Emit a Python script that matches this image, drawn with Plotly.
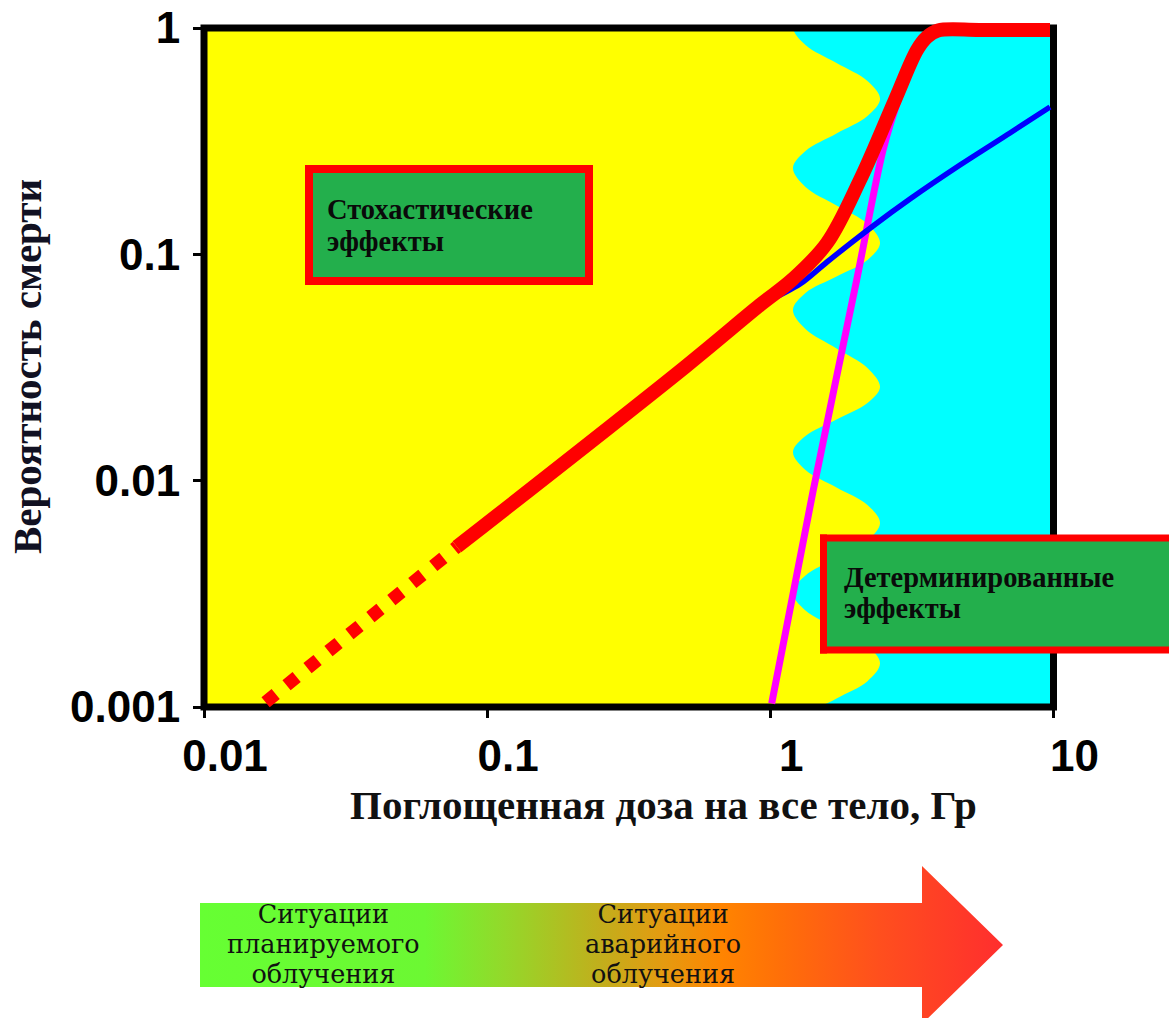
import base64
import plotly.graph_objects as go

# ---------------- data ----------------
dose_ticks = [0.01, 0.1, 1, 10]
dose_tick_text = ["0.01", "0.1", "1", "10"]
prob_ticks = [0.001, 0.01, 0.1, 1]
prob_tick_text = ["0.001", "0.01", "0.1", "1"]

# extrapolated linear part of the risk curve (dotted)
lnt_dose = [0.0165, 0.0782]
lnt_prob = [0.00105, 0.0051]

# total risk (thick red)
total_dose = [0.0782, 0.5, 0.919, 1.202, 1.585, 2.073, 2.755, 3.296, 3.574, 3.909, 5.5, 9.72]
total_prob = [0.0051, 0.0318, 0.0597, 0.0778, 0.1122, 0.2130, 0.4808, 0.7995, 0.9126, 0.975, 0.980, 0.980]

# stochastic component (blue)
stoch_dose = [0.919, 1.273, 1.585, 2.305, 3.112, 4.675, 7.02, 9.72]
stoch_prob = [0.0597, 0.0739, 0.0925, 0.1334, 0.1755, 0.248, 0.3437, 0.4477]

# deterministic component (magenta)
det_dose = [1.011, 1.418, 2.018, 2.5, 2.871, 3.165]
det_prob = [0.001036, 0.00909, 0.0770, 0.289, 0.506, 0.679]

# wavy boundary between the yellow and cyan zones (top to bottom)
zone_dose = [1.202, 1.331, 1.713, 2.203, 2.440, 2.203, 1.713, 1.331,
             1.202, 1.331, 1.713, 2.203, 2.440, 2.203, 1.713, 1.331,
             1.202, 1.331, 1.713, 2.203, 2.440, 2.203, 1.713, 1.331,
             1.202, 1.331, 1.713, 2.203, 2.440, 2.203, 1.713, 1.331,
             1.202, 1.331, 1.713, 2.203, 2.440, 2.203, 1.713, 1.331,
             1.202, 1.331, 1.713, 2.203, 2.440, 2.203, 1.713, 1.331,
             1.202, 1.331, 1.713, 2.203, 2.440]
zone_prob = [4.33, 3.603, 3.001, 2.498, 2.080, 1.732, 1.450, 1.213,
             1.010, 0.841, 0.700, 0.583, 0.4857, 0.4086, 0.3419, 0.2861,
             0.2406, 0.1984, 0.1643, 0.1362, 0.1122, 0.0944, 0.0798, 0.0675,
             0.0568, 0.0468, 0.0384, 0.0315, 0.02593, 0.02203, 0.01863, 0.01575,
             0.01338, 0.01114, 0.00933, 0.00781, 0.00650, 0.00544, 0.00455, 0.00381,
             0.00319, 0.00267, 0.00223, 0.00187, 0.00156, 0.00130, 0.00109, 0.000912,
             0.00076, 0.000633, 0.000529, 0.000443, 0.000369]

x_title = "Поглощенная доза на все тело, Гр"
y_title = "Вероятность смерти"
box1_lines = ["Стохастические", "эффекты"]
box2_lines = ["Детерминированные", "эффекты"]
arrow1_lines = ["Ситуации", "планируемого", "облучения"]
arrow2_lines = ["Ситуации", "аварийного", "облучения"]

# ---------------- geometry ----------------
W, H = 1169, 1018
X0, X1 = 204.0, 1053.5      # pixel of 0.01 and 10
Y0, Y1 = 28.0, 707.0        # pixel of 1 and 0.001
XS = (X1 - X0) / 3.0
YS = (Y1 - Y0) / 3.0


def xdom(pl, pr):
    return [pl / W, pr / W], [-2 + (pl - X0) / XS, -2 + (pr - X0) / XS]


def ydom(pt, pb):
    return [1 - pb / H, 1 - pt / H], [-(pb - Y0) / YS, -(pt - Y0) / YS]


def px(x):
    return x / W


def py(y):
    return 1 - y / H


xa_dom, xa_rng = xdom(X0, X1)
ya_dom, ya_rng = ydom(Y0, Y1)
xb_dom, xb_rng = xdom(X0 - 20, X1 + 20)
yb_dom, yb_rng = ydom(Y0 - 20, Y1 + 20)

fig = go.Figure()

# cyan zone (deterministic region)
fig.add_trace(go.Scatter(
    x=zone_dose + [100, 100], y=zone_prob + [zone_prob[-1], zone_prob[0]],
    mode="lines", line=dict(width=0, shape="spline", smoothing=1.0),
    fill="toself", fillcolor="#00FFFF", hoverinfo="skip",
    xaxis="x", yaxis="y"))

# frame
fx = [dose_ticks[0], dose_ticks[-1], dose_ticks[-1], dose_ticks[0], dose_ticks[0], dose_ticks[-1]]
fy = [prob_ticks[0], prob_ticks[0], prob_ticks[-1], prob_ticks[-1], prob_ticks[0], prob_ticks[0]]
fig.add_trace(go.Scatter(x=fx, y=fy, mode="lines", line=dict(color="black", width=7),
                         hoverinfo="skip", xaxis="x2", yaxis="y2"))

fig.add_trace(go.Scatter(x=det_dose, y=det_prob, mode="lines",
                         line=dict(color="#FF00FF", width=7, shape="spline", smoothing=0.8),
                         hoverinfo="skip", xaxis="x2", yaxis="y2"))
fig.add_trace(go.Scatter(x=stoch_dose, y=stoch_prob, mode="lines",
                         line=dict(color="#0000FF", width=5.5, shape="spline", smoothing=0.8),
                         hoverinfo="skip", xaxis="x2", yaxis="y2"))
fig.add_trace(go.Scatter(x=lnt_dose, y=lnt_prob, mode="lines",
                         line=dict(color="#FF0000", width=13, dash="13px,14px"),
                         hoverinfo="skip", xaxis="x2", yaxis="y2"))
fig.add_trace(go.Scatter(x=total_dose, y=total_prob, mode="lines",
                         line=dict(color="#FF0000", width=14, shape="spline", smoothing=1.0),
                         hoverinfo="skip", xaxis="x2", yaxis="y2"))

tickfont = dict(family="Liberation Sans, Arial", size=44, color="black", weight="bold")

fig.update_layout(
    width=W, height=H, autosize=False,
    margin=dict(l=0, r=0, t=0, b=0, pad=0, autoexpand=False),
    paper_bgcolor="white", plot_bgcolor="rgba(0,0,0,0)", showlegend=False,
    xaxis=dict(type="log", domain=xa_dom, range=xa_rng, anchor="y", automargin=False,
               tickvals=dose_ticks, ticktext=dose_tick_text,
               ticks="outside", ticklen=10, tickwidth=3, tickcolor="black",
               showline=False, showgrid=False, zeroline=False, ticklabeloverflow="allow",
               tickfont=tickfont, ticklabelshift=21, fixedrange=True),
    yaxis=dict(type="log", domain=ya_dom, range=ya_rng, anchor="x", automargin=False,
               tickvals=prob_ticks, ticktext=prob_tick_text,
               ticks="outside", ticklen=10, tickwidth=3, tickcolor="black",
               showline=False, showgrid=False, zeroline=False, ticklabeloverflow="allow",
               tickfont=tickfont, ticklabelstandoff=4, fixedrange=True),
    xaxis2=dict(type="log", domain=xb_dom, range=xb_rng, anchor="y2", automargin=False,
                visible=False, fixedrange=True),
    yaxis2=dict(type="log", domain=yb_dom, range=yb_rng, anchor="x2", automargin=False,
                visible=False, fixedrange=True),
)

# yellow background of the plot area
fig.add_shape(type="rect", xref="x domain", yref="y domain", x0=0, x1=1, y0=0, y1=1,
              fillcolor="#FFFF00", line=dict(width=0), layer="below")

# green label boxes
green = "#23AF4C"
fig.add_shape(type="rect", xref="paper", yref="paper",
              x0=px(309), x1=px(589), y0=py(281), y1=py(169),
              fillcolor=green, line=dict(color="#FF0000", width=8), layer="above")
# second box runs off the right edge: fill plus three red sides
fig.add_shape(type="rect", xref="paper", yref="paper",
              x0=px(823.5), x1=1.0, y0=py(650), y1=py(538),
              fillcolor=green, line=dict(width=0), layer="above")
for (a, b, c, d) in [(820, 534.5, 1169, 541.5), (820, 646.5, 1169, 653.5), (820, 534.5, 827, 653.5)]:
    fig.add_shape(type="rect", xref="paper", yref="paper",
                  x0=px(a), x1=px(c), y0=py(d), y1=py(b),
                  fillcolor="#FF0000", line=dict(width=0), layer="above")

serif_b = dict(family="Liberation Serif, Times New Roman", size=28.5, color="#0a0a0a", weight="bold")
ann = []
for txt, yy in zip(box1_lines, [209, 241]):
    ann.append(dict(text=txt, x=px(325), y=py(yy), xanchor="left", yanchor="middle", font=serif_b))
for txt, yy in zip(box2_lines, [577, 608]):
    ann.append(dict(text=txt, x=px(842), y=py(yy), xanchor="left", yanchor="middle", font=serif_b))

ann.append(dict(text=x_title, x=px(663), y=py(805), xanchor="center", yanchor="middle",
                font=dict(family="Liberation Serif, Times New Roman", size=41, color="#111111", weight="bold")))
ann.append(dict(text=y_title, x=px(27), y=py(367), xanchor="center", yanchor="middle", textangle=-90,
                font=dict(family="Liberation Serif, Times New Roman", size=41, color="#111122", weight="bold")))

# arrow captions
serif_r = dict(family="DejaVu Serif, Liberation Serif", size=23, color="#111111")
for lines, cx in [(arrow1_lines, 323), (arrow2_lines, 663)]:
    txt = "<br>".join(f"<span style='font-size:25.5px'>{s}</span>" for s in lines)
    ann.append(dict(text=txt, x=px(cx), y=py(944), xanchor="center", yanchor="middle",
                    align="center", font=serif_r))

for a in ann:
    a.update(xref="paper", yref="paper", showarrow=False)
fig.update_layout(annotations=ann)

# gradient arrow (decoration) as an SVG image
stops = [(0.0, "#66FF33"), (0.28, "#6CF833"), (0.38, "#94D82A"), (0.50, "#C2AE1C"),
         (0.58, "#E59A10"), (0.65, "#FF8400"), (0.72, "#FF7008"), (0.85, "#FF4E1E"),
         (1.0, "#FF2E2E")]
stop_xml = "".join(f"<stop offset='{o}' stop-color='{c}'/>" for o, c in stops)
svg = (f"<svg xmlns='http://www.w3.org/2000/svg' width='803' height='158' viewBox='0 0 803 158' "
       f"preserveAspectRatio='none'><defs><linearGradient id='g' x1='0' y1='0' x2='1' y2='0'>"
       f"{stop_xml}</linearGradient></defs>"
       f"<polygon points='0,37 722,37 722,0 803,79 722,158 722,121 0,121' fill='url(#g)'/></svg>")
src = "data:image/svg+xml;base64," + base64.b64encode(svg.encode()).decode()
fig.add_layout_image(dict(source=src, xref="paper", yref="paper", x=px(200), y=py(866),
                          sizex=803 / W, sizey=158 / H, xanchor="left", yanchor="top",
                          sizing="stretch", layer="below"))

fig.write_html("out.html", config={"displayModeBar": False, "staticPlot": True},
               post_script="document.body.style.margin='0';document.body.style.overflow='hidden';")
